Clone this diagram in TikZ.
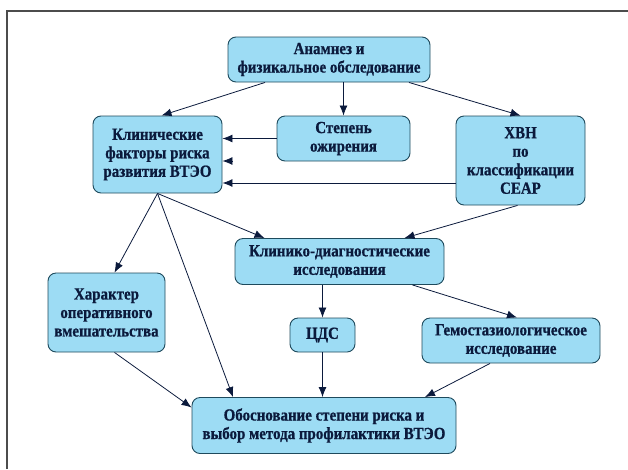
\documentclass[tikz,border=0pt]{standalone}
\usepackage{fontspec}
\setmainfont{Liberation Serif}[FakeStretch=0.88,BoldFeatures={FakeBold=0.8}]
\usetikzlibrary{arrows.meta,calc}
\definecolor{boxfill}{HTML}{9DDCF4}
\definecolor{boxline}{HTML}{1E4A5C}
\definecolor{ink}{HTML}{0B1A3C}
\tikzset{
  box/.style={draw=boxline,fill=boxfill,line width=0.9pt,rounded corners=8pt,
    align=center,font=\fontsize{17}{18.5}\selectfont\bfseries,text=ink,inner sep=2pt},
  arr/.style={draw=ink,line width=0.8pt,-{Latex[length=10pt,width=8pt]}}
}
\begin{document}
\begin{tikzpicture}[x=1pt,y=-1pt]
  \useasboundingbox (0,0) rectangle (628,469);
  \draw[line width=1.5pt,black!70] (7,469)--(7,11)--(628,11);
  % boxes
  \node[box,minimum width=202pt,minimum height=45pt] (anam) at (329,59.5)
    {Анамнез и\\физикальное обследование};
  \node[box,minimum width=129pt,minimum height=77pt] (klin) at (157.5,154.5)
    {Клинические\\факторы риска\\развития ВТЭО};
  \node[box,minimum width=133pt,minimum height=45pt] (stepen) at (343.5,138.5)
    {Степень\\ожирения};
  \node[box,minimum width=129pt,minimum height=89pt] (hvn) at (520.5,160.5)
    {ХВН\\по\\классификации\\СЕАР};
  \node[box,minimum width=209pt,minimum height=46pt] (diag) at (339.5,261.5)
    {Клинико-диагностические\\исследования};
  \node[box,minimum width=117pt,minimum height=79pt] (harak) at (106.5,312.5)
    {Характер\\оперативного\\вмешательства};
  \node[box,minimum width=65pt,minimum height=34pt] (cds) at (322.5,335)
    {ЦДС};
  \node[box,minimum width=178pt,minimum height=45pt] (gemo) at (511,340.5)
    {Гемостазиологическое\\исследование};
  \node[box,minimum width=264pt,minimum height=56pt] (obos) at (324,425.5)
    {Обоснование степени риска и\\выбор метода профилактики ВТЭО};
  % free arrow end
  \coordinate (stub) at ($(klin.east)+(10,6.5)$);
  % connectors
  \draw[arr] ($(anam.south)+(-64,0)$) -- ($(klin.north)+(4,0)$);
  \draw[arr] (stepen.north |- anam.south) -- (stepen.north);
  \draw[arr] ($(anam.south)+(80,0)$) -- ($(hvn.north)+(0,0)$);
  \draw[arr] (stepen.west) -- (klin.east |- stepen.west);
  \draw[arr] (stub) -- (klin.east |- stub);
  \draw[arr] ($(hvn.west)+(0,22.5)$) -- ($(klin.east)+(0,28.5)$);
  \draw[arr] (klin.south) -- ($(harak.north)+(8,0)$);
  \draw[arr] (klin.south) -- ($(obos.north)+(-91,0)$);
  \draw[arr] (klin.south) -- ($(diag.north)+(-75,0)$);
  \draw[arr] ($(hvn.south)+(-3,0)$) -- ($(diag.north)+(65,0)$);
  \draw[arr] (cds.north |- diag.south) -- (cds.north);
  \draw[arr] ($(diag.south)+(73,0)$) -- ($(gemo.north)+(6,0)$);
  \draw[arr] ($(harak.south)+(8,0)$) -- ($(obos.west)+(0,-18)$);
  \draw[arr] (cds.south) -- (cds.south |- obos.north);
  \draw[arr] ($(gemo.south)+(-21,0)$) -- ($(obos.north)+(101,0)$);
\end{tikzpicture}
\end{document}
